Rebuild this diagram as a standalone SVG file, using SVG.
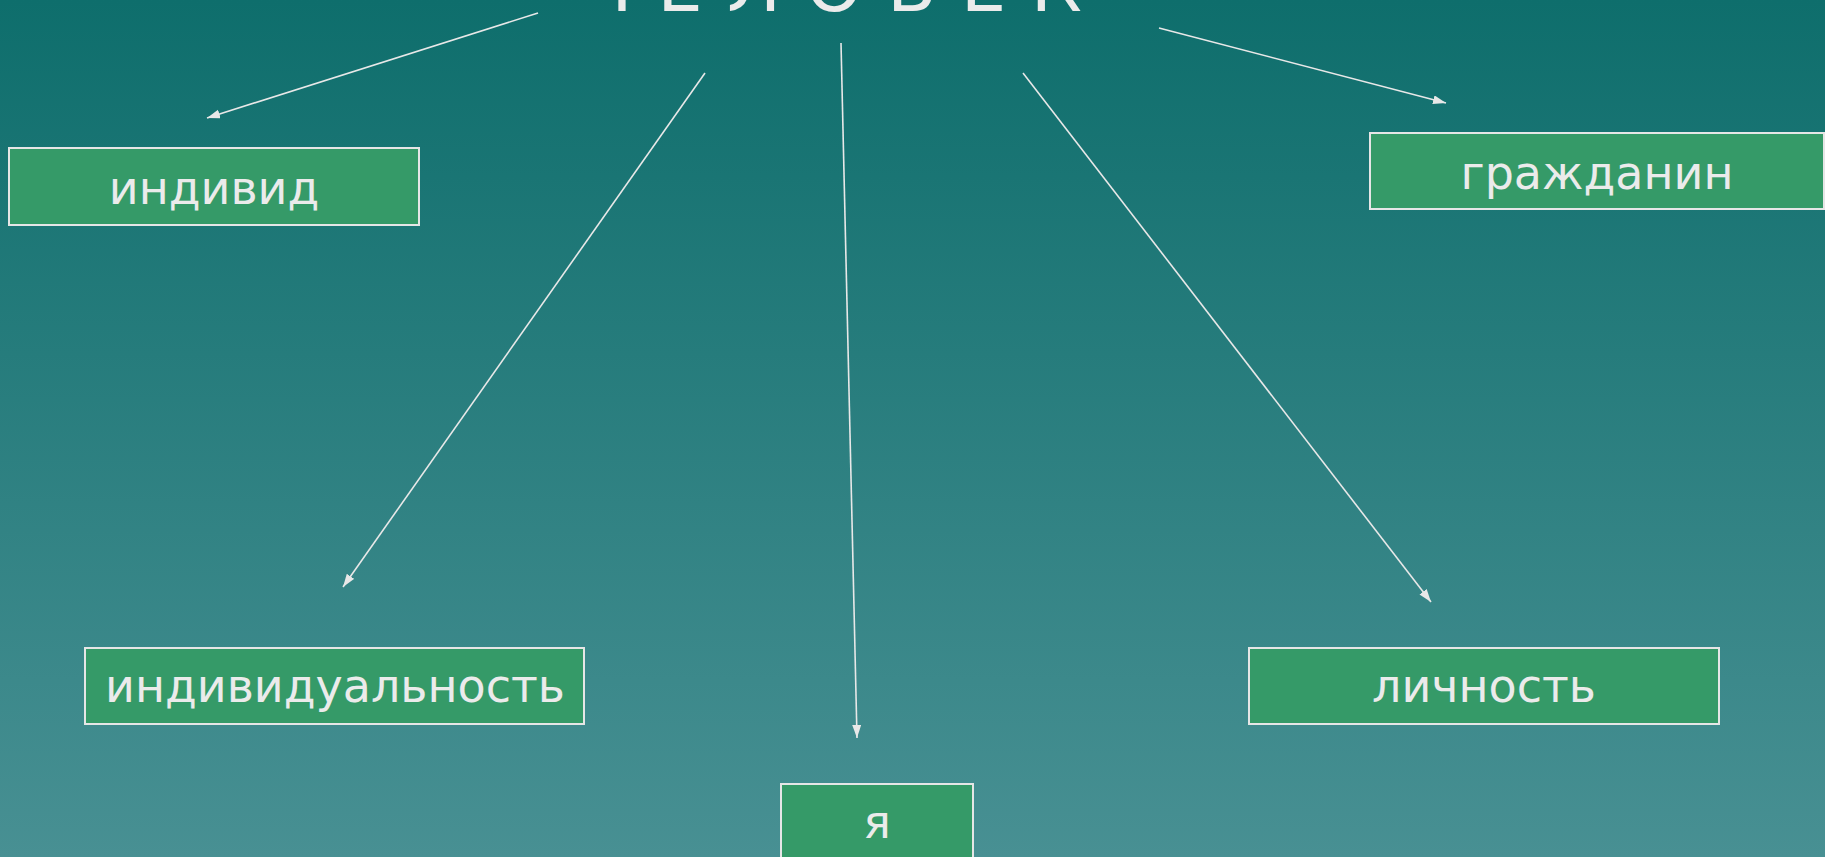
<svg xmlns="http://www.w3.org/2000/svg" width="1825" height="857" viewBox="0 0 1825 857">
<defs>
<linearGradient id="bg2" x1="0" y1="0" x2="0" y2="1">
<stop offset="0" stop-color="#0e6e6c"/>
<stop offset="1" stop-color="#489093"/>
</linearGradient>
<marker id="ah" markerUnits="userSpaceOnUse" markerWidth="14" markerHeight="10" refX="13" refY="4.5" orient="auto">
<path d="M0,0 L13,4.5 L0,9 z" fill="#e8e8e8"/>
</marker>
<style>
.box{fill:#359a68;stroke:#e6e6e6;stroke-width:2}
.lbl{font-family:"DejaVu Sans",Verdana,sans-serif;font-size:46px;fill:#ebebeb;text-anchor:middle}
.title{font-family:"DejaVu Sans",Verdana,sans-serif;font-size:72px;fill:#ebebeb;text-anchor:middle;letter-spacing:0.8px}
.con line{stroke:#e8e8e8;stroke-width:1.6;marker-end:url(#ah)}
</style>
</defs>
<rect x="0" y="0" width="1825" height="857" fill="url(#bg2)"/>
<g id="title"><text class="title" x="833" y="11">Ч Е Л О В Е К</text></g>
<g id="connectors" class="con">
<line x1="538" y1="13" x2="207" y2="118"/>
<line x1="1159" y1="28" x2="1446" y2="103"/>
<line x1="705" y1="73" x2="343" y2="587"/>
<line x1="841" y1="43" x2="857" y2="738"/>
<line x1="1023" y1="73" x2="1431" y2="602"/>
</g>
<g id="individ"><rect class="box" x="9" y="148" width="410" height="77"/><text class="lbl" x="214" y="204">индивид</text></g>
<g id="grazhdanin"><rect class="box" x="1370" y="133" width="454" height="76"/><text class="lbl" x="1597" y="189">гражданин</text></g>
<g id="individualnost"><rect class="box" x="85" y="648" width="499" height="76"/><text class="lbl" x="335" y="702">индивидуальность</text></g>
<g id="lichnost"><rect class="box" x="1249" y="648" width="470" height="76"/><text class="lbl" x="1484" y="702">личность</text></g>
<g id="ya"><rect class="box" x="781" y="784" width="192" height="80"/><text class="lbl" x="877" y="838">я</text></g>
</svg>
